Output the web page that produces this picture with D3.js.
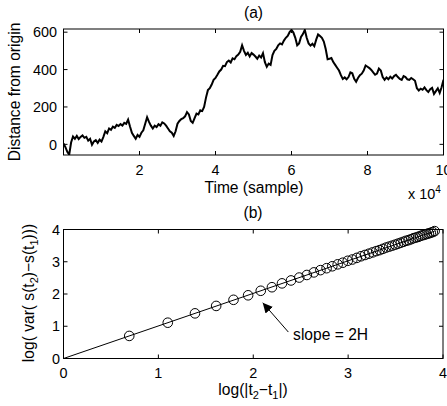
<!DOCTYPE html>
<html>
<head>
<meta charset="utf-8">
<script src="https://cdn.jsdelivr.net/npm/d3@7"></script>
<style>
  body { margin: 0; background: #fff; }
  svg { display: block; font-family: "Liberation Sans", Arial, Helvetica, sans-serif; }
</style>
</head>
<body>
<div id="chart"></div>
<script>
// ---- data ----
// (a) distance from origin, one reading every 500 samples (0 .. 100000)
var sampleStep = 500
var distance = [
  5, -15, -40, -55, 10, 42, 30, 45, 28, 40, 48, 35, 40, 20, 30, -2, 15, 22, 8, 25,
  15, 40, 70, 60, 85, 78, 95, 88, 104, 98, 108, 100, 115, 110, 132, 95, 62, 45, 30, 50,
  40, 62, 75, 110, 145, 120, 100, 85, 100, 92, 108, 100, 118, 112, 100, 85, 70, 62, 45, 70,
  110, 125, 135, 140, 150, 172, 160, 125, 115, 140, 165, 160, 182, 178, 200, 250, 290, 300, 320, 345,
  355, 372, 390, 400, 420, 418, 440, 448, 438, 460, 455, 472, 480, 495, 530, 500, 478, 490, 470, 488,
  480, 470, 458, 475, 465, 488, 440, 415, 432, 425, 478, 500, 510, 530, 540, 535, 555, 570, 580, 600,
  612, 598, 570, 530, 540, 575, 590, 612, 570, 540, 528, 538, 525, 560, 588, 580, 570, 550, 510, 455,
  458, 462, 440, 425, 410, 395, 370, 350, 358, 348, 360, 385, 380, 350, 335, 355, 370, 378, 395, 422,
  415, 408, 398, 385, 372, 378, 405, 395, 360, 345, 358, 348, 362, 352, 365, 372, 360, 350, 345, 365,
  360, 348, 345, 355, 348, 340, 300, 288, 298, 292, 305, 290, 280, 295, 302, 270, 285, 300, 275, 305,
  345
]
var timeTicks = [2, 4, 6, 8, 10]
var distTicks = [0, 200, 400, 600]

// (b) log lag vs log variance
var logLag = [0.693, 1.099, 1.386, 1.609, 1.792, 1.946, 2.079, 2.197, 2.303, 2.398,
  2.485, 2.565, 2.639, 2.708, 2.773, 2.833, 2.890, 2.944, 2.996, 3.045,
  3.091, 3.135, 3.178, 3.219, 3.258, 3.296, 3.332, 3.367, 3.401, 3.434,
  3.466, 3.497, 3.526, 3.555, 3.584, 3.611, 3.638, 3.664, 3.689, 3.714,
  3.738, 3.761, 3.784, 3.807, 3.829, 3.850, 3.871, 3.892, 3.912]
var logVar = [0.70, 1.11, 1.40, 1.63, 1.82, 1.96, 2.10, 2.21, 2.33, 2.42,
  2.51, 2.59, 2.67, 2.74, 2.80, 2.86, 2.92, 2.97, 3.03, 3.07,
  3.12, 3.17, 3.21, 3.25, 3.29, 3.33, 3.36, 3.40, 3.44, 3.47,
  3.50, 3.53, 3.56, 3.59, 3.62, 3.65, 3.67, 3.70, 3.73, 3.75,
  3.77, 3.80, 3.82, 3.84, 3.86, 3.88, 3.90, 3.92, 3.95]
var fitX = [0, 3.912]
var fitY = [0, 3.95]
var bTicks = [0, 1, 2, 3, 4]

// ---- layout ----
var width = 447, height = 406
var tickFont = 14.4, labelFont = 15.6

var svg = d3.select('#chart').append('svg')
  .attr('width', width)
  .attr('height', height)

var defs = svg.append('defs')
defs.append('clipPath').attr('id', 'clipA')
  .append('rect').attr('x', 63.5).attr('y', 29).attr('width', 380).attr('height', 126)

defs.append('marker')
  .attr('id', 'arrowhead')
  .attr('viewBox', '0 0 10 10')
  .attr('refX', 10).attr('refY', 5)
  .attr('markerWidth', 10).attr('markerHeight', 10)
  .attr('markerUnits', 'userSpaceOnUse')
  .attr('orient', 'auto')
  .append('path')
  .attr('d', 'M0,0 L10,5 L0,10 Z')
  .attr('fill', 'black')

// draws a matlab-style boxed axes with inward ticks on all four sides
function drawBox(g, x, y, xt, yt, yLabelEnd) {
  var x0 = x.range()[0], x1 = x.range()[1]
  var y0 = y.range()[0], y1 = y.range()[1]
  var tl = 4

  xt.forEach(function(t) {
    g.append('line').attr('x1', x(t)).attr('x2', x(t)).attr('y1', y0).attr('y2', y0 - tl)
      .attr('stroke', 'black')
    g.append('line').attr('x1', x(t)).attr('x2', x(t)).attr('y1', y1).attr('y2', y1 + tl)
      .attr('stroke', 'black')
  })
  yt.forEach(function(t) {
    g.append('line').attr('x1', x0).attr('x2', x0 + tl).attr('y1', y(t)).attr('y2', y(t))
      .attr('stroke', 'black')
    g.append('line').attr('x1', x1).attr('x2', x1 - tl).attr('y1', y(t)).attr('y2', y(t))
      .attr('stroke', 'black')
    g.append('text')
      .attr('x', yLabelEnd)
      .attr('y', y(t))
      .attr('dy', '0.36em')
      .attr('text-anchor', 'end')
      .attr('font-size', tickFont)
      .text(t)
  })
  xt.forEach(function(t) {
    g.append('text')
      .attr('x', x(t))
      .attr('y', y0 + 19.5)
      .attr('text-anchor', 'middle')
      .attr('font-size', tickFont)
      .text(t)
  })
  g.append('rect')
    .attr('x', x0).attr('y', y1)
    .attr('width', x1 - x0).attr('height', y0 - y1)
    .attr('fill', 'none')
    .attr('stroke', 'black')
    .attr('stroke-width', 1)
}

// ---- panel (a) ----
var xA = d3.scaleLinear().domain([0, 100000]).range([63.5, 443.5])
var yA = d3.scaleLinear().domain([-57, 617]).range([155, 29])

var gA = svg.append('g')

var walk = d3.line()
  .x(function(d, i) { return xA(i * sampleStep) })
  .y(function(d) { return yA(d) })

gA.append('path')
  .datum(distance)
  .attr('d', walk)
  .attr('clip-path', 'url(#clipA)')
  .attr('fill', 'none')
  .attr('stroke', 'black')
  .attr('stroke-width', 2)
  .attr('stroke-linejoin', 'miter')

var xA4 = d3.scaleLinear().domain([0, 10]).range(xA.range())
drawBox(gA, xA4, yA, timeTicks, distTicks, 57)

gA.append('text')
  .attr('x', 253.5).attr('y', 18)
  .attr('text-anchor', 'middle')
  .attr('font-size', labelFont)
  .text('(a)')

gA.append('text')
  .attr('x', 254).attr('y', 193)
  .attr('text-anchor', 'middle')
  .attr('font-size', labelFont)
  .text('Time (sample)')

var expo = gA.append('text')
  .attr('x', 408).attr('y', 199)
  .attr('font-size', tickFont)
expo.append('tspan').text('x 10')
expo.append('tspan').attr('dy', -6).attr('font-size', 10).text('4')

gA.append('text')
  .attr('transform', 'translate(20,92) rotate(-90)')
  .attr('text-anchor', 'middle')
  .attr('font-size', labelFont)
  .text('Distance from origin')

// ---- panel (b) ----
var xB = d3.scaleLinear().domain([0, 4]).range([63.5, 443])
var yB = d3.scaleLinear().domain([0, 4]).range([358.5, 229.5])

var gB = svg.append('g')

var fitLine = d3.line()
  .x(function(d) { return xB(d[0]) })
  .y(function(d) { return yB(d[1]) })

gB.append('path')
  .datum(d3.zip(fitX, fitY))
  .attr('d', fitLine)
  .attr('fill', 'none')
  .attr('stroke', 'black')
  .attr('stroke-width', 1)

gB.selectAll('circle')
  .data(d3.zip(logLag, logVar))
  .enter().append('circle')
  .attr('cx', function(d) { return xB(d[0]) })
  .attr('cy', function(d) { return yB(d[1]) })
  .attr('r', 4.8)
  .attr('fill', 'none')
  .attr('stroke', 'black')
  .attr('stroke-width', 1)

drawBox(gB, xB, yB, bTicks, bTicks, 60)

// annotation arrow
gB.append('line')
  .attr('x1', xB(2.37)).attr('y1', yB(0.82))
  .attr('x2', xB(2.1)).attr('y2', yB(1.73))
  .attr('stroke', 'black')
  .attr('marker-end', 'url(#arrowhead)')

gB.append('text')
  .attr('x', xB(2.42)).attr('y', yB(0.57))
  .attr('font-size', labelFont)
  .text('slope = 2H')

gB.append('text')
  .attr('x', 253).attr('y', 218)
  .attr('text-anchor', 'middle')
  .attr('font-size', labelFont)
  .text('(b)')

var xl = gB.append('text')
  .attr('x', 253).attr('y', 395)
  .attr('text-anchor', 'middle')
  .attr('font-size', labelFont)
xl.append('tspan').text('log(|t')
xl.append('tspan').attr('dy', 4).attr('font-size', 11).text('2')
xl.append('tspan').attr('dy', -4).text('\u2212t')
xl.append('tspan').attr('dy', 4).attr('font-size', 11).text('1')
xl.append('tspan').attr('dy', -4).text('|)')

var yl = gB.append('text')
  .attr('transform', 'translate(34,293) rotate(-90)')
  .attr('text-anchor', 'middle')
  .attr('font-size', labelFont)
yl.append('tspan').text('log( var( s(t')
yl.append('tspan').attr('dy', 4).attr('font-size', 11).text('2')
yl.append('tspan').attr('dy', -4).text(')\u2212s(t')
yl.append('tspan').attr('dy', 4).attr('font-size', 11).text('1')
yl.append('tspan').attr('dy', -4).text(')))')
</script>
</body>
</html>
